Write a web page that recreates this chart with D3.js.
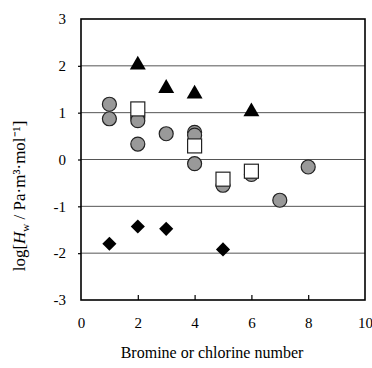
<!DOCTYPE html>
<html>
<head>
<meta charset="utf-8">
<script src="https://cdn.jsdelivr.net/npm/d3@7"></script>
<style>
  body { margin: 0; background: #fff; }
  text { font-family: "Liberation Serif", "Times New Roman", serif; fill: #000; }
</style>
</head>
<body>
<script>
var width = 372;
var height = 368;
var marginLeft = 81;
var marginTop = 19;
var plotW = 284;
var plotH = 281;

// data
var xTicks = [0, 2, 4, 6, 8, 10];
var yTicks = [-3, -2, -1, 0, 1, 2, 3];

var circleX = [1, 1, 2, 2, 2, 3, 4, 4, 4, 5, 6, 7, 8];
var circleY = [1.18, 0.87, 0.9, 0.83, 0.33, 0.55, 0.58, 0.52, -0.09, -0.55, -0.32, -0.87, -0.16];

var squareX = [2, 4, 5, 6];
var squareY = [1.08, 0.29, -0.42, -0.25];

var triangleX = [2, 3, 4, 6];
var triangleY = [2.02, 1.52, 1.4, 1.02];

var diamondX = [1, 2, 3, 5];
var diamondY = [-1.8, -1.43, -1.48, -1.92];

var svg = d3.select("body").append("svg")
    .attr("width", width)
    .attr("height", height);

var g = svg.append("g")
    .attr("transform", "translate(" + marginLeft + "," + marginTop + ")");

var xScale = d3.scaleLinear().domain([0, 10]).range([0, plotW]);
var yScale = d3.scaleLinear().domain([-3, 3]).range([plotH, 0]);

// gridlines
g.selectAll("line.grid")
    .data([-2, -1, 0, 1, 2])
    .enter().append("line")
    .attr("class", "grid")
    .attr("x1", 0)
    .attr("x2", plotW)
    .attr("y1", d => yScale(d))
    .attr("y2", d => yScale(d))
    .attr("stroke", "#555")
    .attr("stroke-width", 1);

// axes
var fmt = d => String(d);
var xAxis = d3.axisBottom(xScale).tickValues(xTicks).tickFormat(fmt).tickSizeInner(-5).tickSizeOuter(0).tickPadding(17);
var yAxis = d3.axisLeft(yScale).tickValues(yTicks).tickFormat(fmt).tickSizeInner(3).tickSizeOuter(0).tickPadding(12);

var gx = g.append("g")
    .attr("transform", "translate(0," + plotH + ")")
    .call(xAxis);
var gy = g.append("g").call(yAxis);

[gx, gy].forEach(function (a) {
    a.select(".domain").remove();
    a.selectAll(".tick line").attr("stroke", "#000").attr("stroke-width", 1.2);
    a.selectAll(".tick text")
        .style("font-family", '"Liberation Serif", serif')
        .style("font-size", "15px")
        .attr("fill", "#000");
});
gx.selectAll(".tick line").filter(d => d === 0 || d === 10).remove();
gy.selectAll(".tick line").filter(d => d === -3 || d === 3).remove();

// frame
g.append("rect")
    .attr("x", 0)
    .attr("y", 0)
    .attr("width", plotW)
    .attr("height", plotH)
    .attr("fill", "none")
    .attr("stroke", "#000")
    .attr("stroke-width", 1.6);

// circles
g.selectAll("circle.pt")
    .data(d3.zip(circleX, circleY))
    .enter().append("circle")
    .attr("class", "pt")
    .attr("cx", d => xScale(d[0]))
    .attr("cy", d => yScale(d[1]))
    .attr("r", 7)
    .attr("fill", "#999")
    .attr("stroke", "#222")
    .attr("stroke-width", 1.2);

// squares
g.selectAll("rect.sq")
    .data(d3.zip(squareX, squareY))
    .enter().append("rect")
    .attr("class", "sq")
    .attr("x", d => xScale(d[0]) - 7)
    .attr("y", d => yScale(d[1]) - 7)
    .attr("width", 14)
    .attr("height", 14)
    .attr("fill", "#fff")
    .attr("stroke", "#222")
    .attr("stroke-width", 1.2);

// triangles
var tri = d3.symbol().type(d3.symbolTriangle).size(110);
g.selectAll("path.tri")
    .data(d3.zip(triangleX, triangleY))
    .enter().append("path")
    .attr("class", "tri")
    .attr("transform", d => "translate(" + xScale(d[0]) + "," + yScale(d[1]) + ")")
    .attr("d", tri)
    .attr("fill", "#000");

// diamonds
var dia = d3.symbol().type(d3.symbolSquare).size(100);
g.selectAll("path.dia")
    .data(d3.zip(diamondX, diamondY))
    .enter().append("path")
    .attr("class", "dia")
    .attr("transform", d => "translate(" + xScale(d[0]) + "," + yScale(d[1]) + ") rotate(45)")
    .attr("d", dia)
    .attr("fill", "#000");

// axis titles
svg.append("text")
    .attr("x", 212)
    .attr("y", 358)
    .attr("text-anchor", "middle")
    .style("font-size", "16px")
    .text("Bromine or chlorine number");

var yt = svg.append("text")
    .attr("transform", "translate(25,196) rotate(-90)")
    .attr("text-anchor", "middle")
    .style("font-size", "17px");
yt.append("tspan").text("log[");
yt.append("tspan").style("font-style", "italic").text("H");
yt.append("tspan").attr("dy", 4).style("font-size", "11px").text("w");
yt.append("tspan").attr("dy", -4).text(" / Pa\u00b7m\u00b3\u00b7mol\u207b\u00b9]");
</script>
</body>
</html>
